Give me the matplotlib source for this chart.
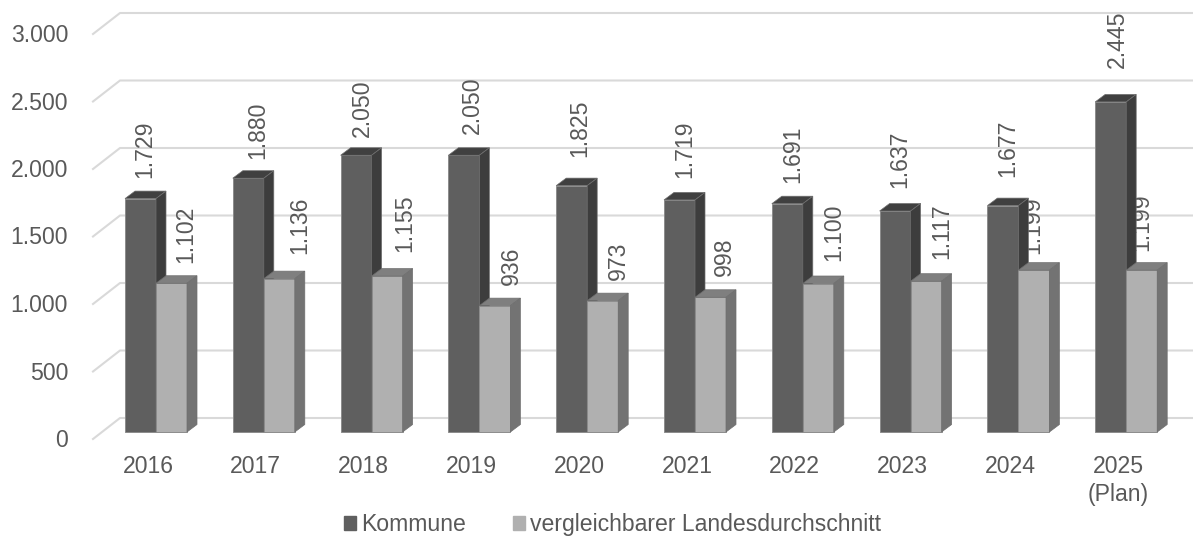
import matplotlib
matplotlib.use('Agg')
import matplotlib.pyplot as plt
from matplotlib.patches import Polygon, Patch

# Values
years = ['2016', '2017', '2018', '2019', '2020', '2021', '2022', '2023', '2024', '2025\n(Plan)']
kommune = [1729, 1880, 2050, 2050, 1825, 1719, 1691, 1637, 1677, 2445]
land = [1102, 1136, 1155, 936, 973, 998, 1100, 1117, 1199, 1199]
y_ticks = [0, 500, 1000, 1500, 2000, 2500, 3000]

# Label placement relative to each bar, in pixels (the original labels were hand moved)
kommune_nudge_x = [3.8, 9, 6.2, 8.8, 8.3, 4.8, 5.4, 4.9, 4.8, 6.3]
kommune_gap = [21.3, 19.9, 19.2, 22.5, 29.6, 23.2, 21.4, 23.7, 29.6, 35.2]
land_nudge_x = [14.5, 20, 17.2, 16.4, 16, 13.5, 15.7, 15.6, -1.2, 0]
land_gap = [21.5, 25.3, 25.1, 21.6, 21.6, 22.3, 23.5, 23.5, 17.4, 20.1]

W, H = 1193, 537
PX_X = 107.8   # pixels per category
PX_Y = 0.135   # pixels per value unit
X0, Y0 = 156, 432  # pixel of first group centre / bar base

plt.rcParams['font.family'] = ['Liberation Sans', 'DejaVu Sans']
text_col = '#595959'
fs = 16.6

fig = plt.figure(figsize=(W / 100, H / 100), dpi=100)
ax = fig.add_axes([0, 0, 1, 1])
ax.set_xlim(-X0 / PX_X, (W - X0) / PX_X)
ax.set_ylim(-(H - Y0) / PX_Y, Y0 / PX_Y)
ax.axis('off')

# pixel sizes to data units
def dx(px):
    return px / PX_X

def dy(px):
    return px / PX_Y

def fmt(v):
    return f'{v:,}'.replace(',', '.')

bar_w = dx(31)
x_left = -X0 / PX_X

# gridlines with the 3D floor corner
for v in y_ticks:
    ax.plot([x_left + dx(93), x_left + dx(120), ax.get_xlim()[1]],
            [v - dy(7), v + dy(14), v + dy(14)], color='#d9d9d9', lw=1.5, zorder=1)
    ax.text(x_left + dx(68), v - dy(8.5), fmt(v), ha='right', va='center', fontsize=fs, color=text_col)


def bar3d(x, h, front, top, side, z):
    ax.bar(x, h, width=bar_w, align='edge', color=front, edgecolor='#8c8c8c', linewidth=0.7, zorder=z)
    ax.add_patch(Polygon([(x, h), (x + bar_w, h), (x + bar_w + dx(10), h + dy(7.5)), (x + dx(10), h + dy(7.5))],
                         facecolor=top, edgecolor='#6e6e6e', linewidth=0.5, zorder=z))
    ax.add_patch(Polygon([(x + bar_w, 0), (x + bar_w, h), (x + bar_w + dx(10), h + dy(7.5)), (x + bar_w + dx(10), dy(7.5))],
                         facecolor=side, edgecolor='#6e6e6e', linewidth=0.5, zorder=z))


for i in range(len(years)):
    bar3d(i - bar_w, kommune[i], '#5f5f5f', '#404040', '#3d3d3d', 2)
    bar3d(i, land[i], '#b0b0b0', '#7f7f7f', '#737373', 3)
    ax.text(i - bar_w / 2 + dx(kommune_nudge_x[i]), kommune[i] + dy(kommune_gap[i] - 1), fmt(kommune[i]), rotation=90,
            ha='center', va='bottom', fontsize=fs, color=text_col, zorder=4)
    # these sit behind the dark bars where they overlap (2024, 2025)
    ax.text(i + bar_w / 2 + dx(land_nudge_x[i]), land[i] + dy(land_gap[i] - 1), fmt(land[i]), rotation=90,
            ha='center', va='bottom', fontsize=fs, color=text_col, zorder=1.5)
    ax.text(i - dx(8), -dy(23), years[i], ha='center', va='top', fontsize=fs, color=text_col,
            linespacing=1.27, zorder=4)

fig.legend(handles=[Patch(color='#5f5f5f', label='Kommune'), Patch(color='#b0b0b0', label='vergleichbarer Landesdurchschnitt')],
           loc='center left', bbox_to_anchor=(344 / W, 1 - 524.5 / H), ncol=2, frameon=False, fontsize=fs,
           labelcolor=text_col, handlelength=0.52, handleheight=0.52, handletextpad=0.22, columnspacing=2.05,
           borderpad=0, borderaxespad=0)

fig.savefig('out.png', dpi=100)
